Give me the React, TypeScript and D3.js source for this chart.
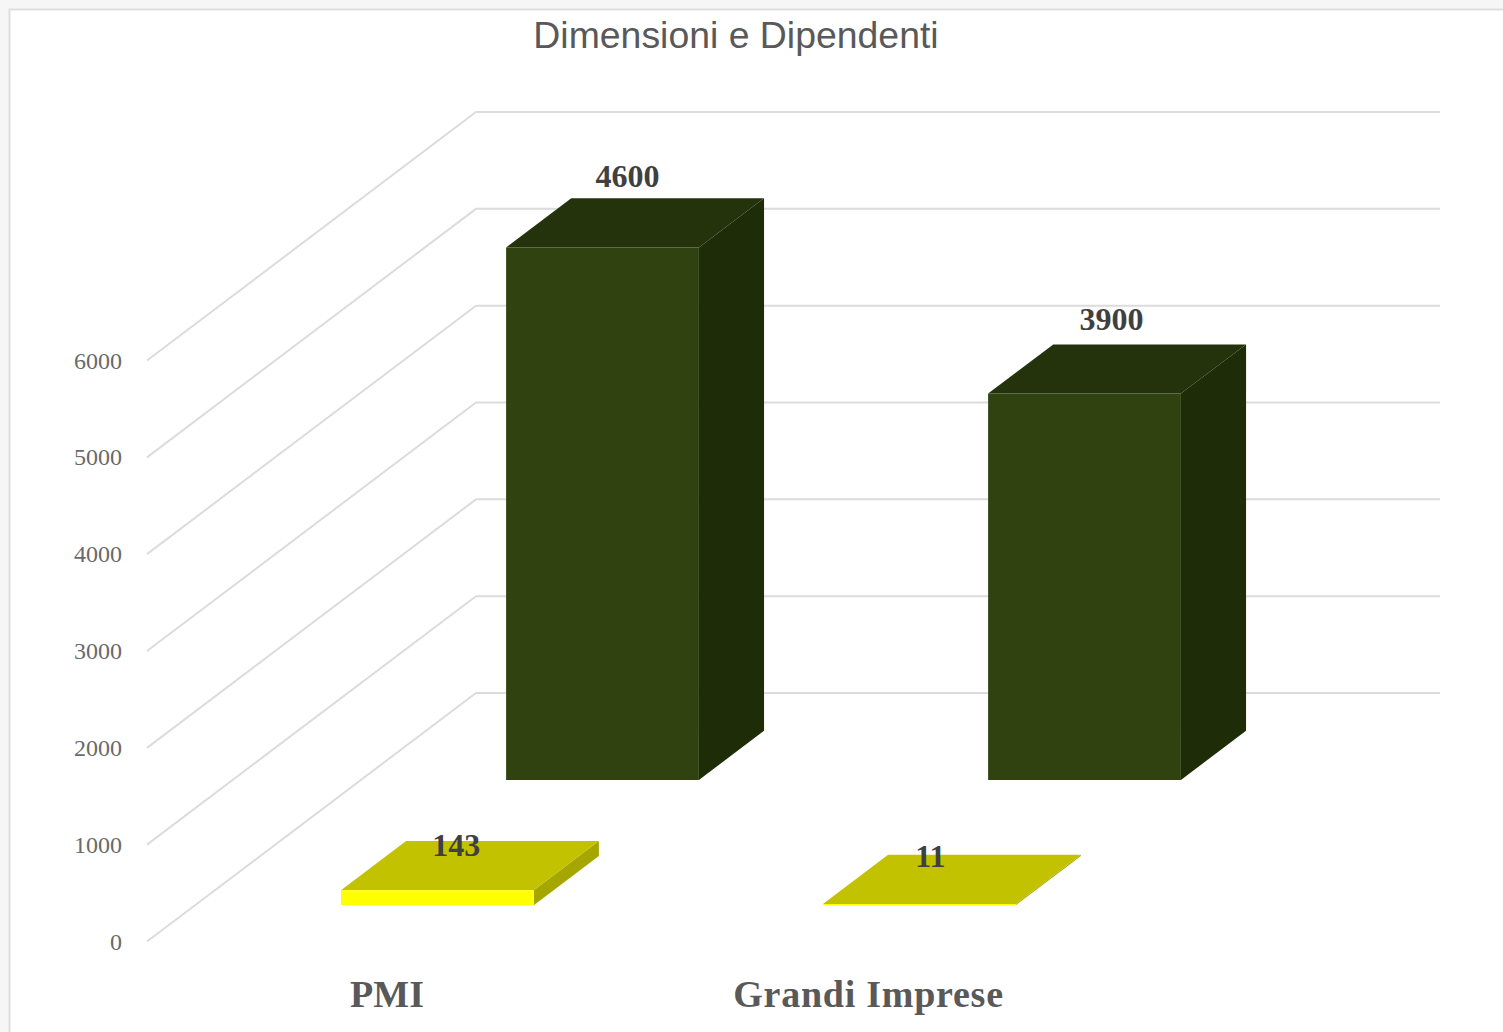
import React from "react";
import * as d3 from "d3";

const title = "Dimensioni e Dipendenti";
const categories = ["PMI", "Grandi Imprese"];
const seriesNames = ["Piccole", "Dipendenti"];
const yTicks = [0, 1000, 2000, 3000, 4000, 5000, 6000];
// Drawn heights
const frontHeights = [155, 12];
const backHeights = [5500, 3990];
// Printed labels of the source chart
const frontLabels = ["143", "11"];
const backLabels = ["4600", "3900"];

const frontColors = { front: "#ffff00", top: "#c2c200", side: "#a6a600" };
const backColors = { front: "#2f4210", top: "#25330c", side: "#1e2c08" };

const W = 1503;
const H = 1032;
const SERIF = "'Liberation Serif', serif";
const SANS = "'Liberation Sans', sans-serif";

const x = d3.scaleBand<string>().domain(categories).range([147, 1111]).paddingInner(0.6).paddingOuter(0.3);
const y = d3.scaleLinear().domain([0, 6000]).range([941.5, 360.5]);
// depth 0 is the front of the floor, 1 the back wall
const depthX = d3.scaleLinear().domain([0, 1]).range([0, 329]);
const depthY = d3.scaleLinear().domain([0, 1]).range([0, -248.5]);
const seriesDepth = d3.scaleOrdinal<string, number>().domain(seriesNames).range([0.15, 0.652]);
const barDepth = 0.198;

const project = (px: number, v: number, d: number): [number, number] => [px + depthX(d), y(v) + depthY(d)];
const poly = (pts: [number, number][]) => d3.line()(pts)! + "Z";

function Bar({ cat, value, d0, colors, drop }: { cat: string; value: number; d0: number; colors: typeof backColors; drop: number }) {
  const l = x(cat)!;
  const r = l + x.bandwidth();
  const d1 = d0 + barDepth;
  const front = poly([project(l, 0, d0), project(r, 0, d0), project(r, value, d0), project(l, value, d0)]);
  const top = poly([project(l, value, d0), project(r, value, d0), project(r, value, d1), project(l, value, d1)]);
  const side = poly([project(r, 0, d0), project(r, 0, d1), project(r, value, d1), project(r, value, d0)]);
  return (
    <g transform={`translate(0,${drop})`}>
      <path d={side} fill={colors.side} />
      <path d={top} fill={colors.top} />
      <path d={front} fill={colors.front} />
    </g>
  );
}

const labelShift = { back: [[25, -60], [27, -63]], front: [[19, -33], [11, -36]] };

export default function App() {
  const gridPath = (t: number) => {
    const a = project(147, t, 0);
    const b = project(147, t, 1);
    return d3.line()([a, b, [1440, b[1]]])!;
  };
  const pos = (cat: string, v: number, d: number, s: number[]) => {
    const p = project(x(cat)! + x.bandwidth() / 2, v, d);
    return [p[0] + s[0], p[1] + s[1]] as [number, number];
  };
  return (
    <svg width={W} height={H} viewBox={`0 0 ${W} ${H}`} style={{ position: "fixed", left: 0, top: 0, display: "block" }}>
      <rect width={W} height={H} fill="#f6f6f6" />
      <rect x={9.5} y={9.5} width={W + 20} height={H + 20} fill="#ffffff" stroke="#dedede" strokeWidth={2} />
      <text x={736} y={48} textAnchor="middle" fontFamily={SANS} fontSize={37.4} fill="#595959">{title}</text>
      <g fill="none" stroke="#dcdcdc" strokeWidth={2}>
        {yTicks.map((t) => <path key={t} d={gridPath(t)} />)}
      </g>
      <g fontFamily={SERIF} fontSize={24} fill="#6a6a6a" textAnchor="end">
        {yTicks.map((t) => <text key={t} x={122} y={y(t) + 8}>{t}</text>)}
      </g>
      {categories.map((c, i) => <Bar key={c} cat={c} value={backHeights[i]} d0={seriesDepth(seriesNames[1])} colors={backColors} drop={0.5} />)}
      {categories.map((c, i) => <Bar key={c} cat={c} value={frontHeights[i]} d0={seriesDepth(seriesNames[0])} colors={frontColors} drop={1} />)}
      <g fontFamily={SERIF} fontSize={32} fontWeight="bold" fill="#404040" textAnchor="middle">
        {categories.map((c, i) => {
          const [px, py] = pos(c, backHeights[i], seriesDepth(seriesNames[1]), labelShift.back[i]);
          return <text key={c} x={px} y={py}>{backLabels[i]}</text>;
        })}
        {categories.map((c, i) => {
          const [px, py] = pos(c, frontHeights[i], seriesDepth(seriesNames[0]), labelShift.front[i]);
          return <text key={c} x={px} y={py}>{frontLabels[i]}</text>;
        })}
      </g>
      <g fontFamily={SERIF} fontSize={38} fontWeight="bold" fill="#595959" textAnchor="middle">
        <text x={387} y={1007}>{categories[0]}</text>
        <text x={868.5} y={1007} letterSpacing={0.75}>{categories[1]}</text>
      </g>
    </svg>
  );
}
